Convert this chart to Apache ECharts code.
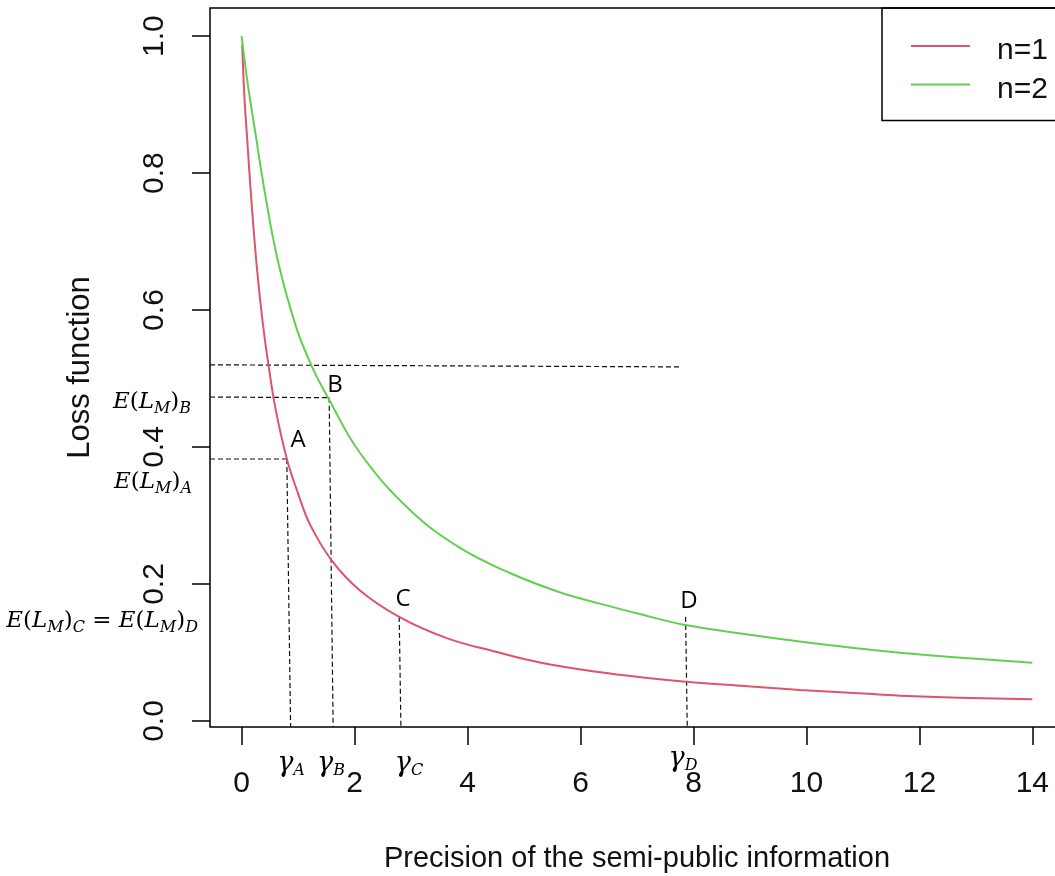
<!DOCTYPE html>
<html>
  <head>
    <meta charset="utf-8" />
    <script src="https://cdn.jsdelivr.net/npm/echarts@6/dist/echarts.min.js"></script>
    <style>body{margin:0;background:#fff;}</style>
  </head>
  <body>
    <div id="main" style="width: 1055px;height:876px;"></div>
    <script type="text/javascript">
      var myChart = echarts.init(document.getElementById('main'));

      // tick labels
      var xTicks = [0, 2, 4, 6, 8, 10, 12, 14];
      var yTicks = [0, 0.2, 0.4, 0.6, 0.8, 1.0];

      // n=1 curve
      var nOneX = [0.01, 0.05, 0.09, 0.17, 0.27, 0.37, 0.47, 0.6, 0.8, 1.0, 1.21, 1.59, 2.09, 2.79, 3.63, 4.5, 5.3, 6.35, 7.1, 7.86, 8.9, 9.88, 11.0, 11.65, 12.7, 14];
      var nOneY = [0.987, 0.91, 0.86, 0.763, 0.662, 0.584, 0.523, 0.456, 0.383, 0.332, 0.287, 0.235, 0.191, 0.152, 0.121, 0.101, 0.085, 0.071, 0.0635, 0.0574, 0.051, 0.0453, 0.040, 0.037, 0.034, 0.0317];

      // n=2 curve
      var nTwoX = [0, 0.1, 0.235, 0.425, 0.65, 0.97, 1.27, 1.53, 2.09, 2.98, 3.86, 4.75, 5.63, 6.36, 7.1, 7.86, 8.9, 9.88, 10.8, 11.65, 12.8, 14];
      var nTwoY = [1.0, 0.935, 0.863, 0.765, 0.669, 0.574, 0.513, 0.472, 0.392, 0.308, 0.253, 0.216, 0.188, 0.171, 0.155, 0.140, 0.127, 0.116, 0.107, 0.0997, 0.092, 0.085];

      // dashed guide lines (start point, end point)
      var xMin = -0.56, xMax = 14.56, yMin = -0.0088, yMax = 1.041;
      var guides = [
        [[xMin, 0.520], [7.79, 0.517]],
        [[xMin, 0.473], [1.53, 0.472]],
        [[xMin, 0.3825], [0.80, 0.3825]],
        [[0.80, 0.3825], [0.867, yMin]],
        [[1.55, 0.472], [1.62, yMin]],
        [[2.79, 0.152], [2.82, yMin]],
        [[7.86, 0.152], [7.89, yMin]]
      ];

      function pairs(xs, ys) {
        return xs.map(function (x, i) { return [x, ys[i]]; });
      }

      var mathRich = {
        i: { fontFamily: 'DejaVu Serif', fontStyle: 'italic', fontSize: 23, lineHeight: 29, fill: '#000' },
        n: { fontFamily: 'DejaVu Serif', fontSize: 23, lineHeight: 29, fill: '#000' },
        g: { fontFamily: 'DejaVu Serif', fontStyle: 'italic', fontSize: 27, lineHeight: 30, fill: '#000' },
        s: { fontFamily: 'DejaVu Serif', fontStyle: 'italic', fontSize: 16, lineHeight: 16, verticalAlign: 'bottom', fill: '#000' }
      };

      function mathText(txt, x, y, align) {
        return {
          type: 'text', x: x, y: y, silent: true,
          style: { text: txt, rich: mathRich, align: align || 'center', verticalAlign: 'middle' }
        };
      }
      function letter(txt, x, y) {
        return {
          type: 'text', x: x, y: y, silent: true,
          style: { text: txt, fontFamily: 'Open Sans', fontSize: 24, fill: '#000', align: 'center', verticalAlign: 'middle' }
        };
      }

      var series = [
        {
          name: 'n=1', type: 'line', data: pairs(nOneX, nOneY), showSymbol: false, symbol: 'none',
          smooth: 0.4,
          lineStyle: { color: '#DF536B', width: 2 }, itemStyle: { color: '#DF536B' }, z: 3
        },
        {
          name: 'n=2', type: 'line', data: pairs(nTwoX, nTwoY), showSymbol: false, symbol: 'none',
          smooth: 0.4,
          lineStyle: { color: '#61D04F', width: 2 }, itemStyle: { color: '#61D04F' }, z: 3
        }
      ];
      guides.forEach(function (g) {
        series.push({
          type: 'line', data: g, symbol: 'none', silent: true, z: 2,
          lineStyle: { color: '#111', width: 1.2, type: [5, 3] }
        });
      });

      // legend line sits a little above the text centre
      var legendIcon = 'path://M0,0L59,0L59,2L0,2Z M0,12L0.01,12L0.01,12.01Z';

      option = {
        animation: false,
        backgroundColor: '#fff',
        grid: {
          left: 210, top: 8, width: 854, height: 719,
          show: true, borderColor: '#000', borderWidth: 1.5,
          containLabel: false, outerBoundsMode: 'none'
        },
        xAxis: {
          type: 'value', min: xMin, max: xMax,
          splitLine: { show: false },
          axisLine: { show: false, onZero: false },
          axisTick: { show: true, length: 18, customValues: xTicks, lineStyle: { color: '#000', width: 1.5 } },
          axisLabel: { customValues: xTicks, fontFamily: 'Liberation Sans', fontSize: 30, color: '#111', margin: 42 },
          name: 'Precision of the semi-public information',
          nameLocation: 'middle', nameGap: 117,
          nameTextStyle: { fontFamily: 'Liberation Sans', fontSize: 29, color: '#111' }
        },
        yAxis: {
          type: 'value', min: yMin, max: yMax,
          splitLine: { show: false },
          axisLine: { show: false, onZero: false },
          axisTick: { show: true, length: 18, customValues: yTicks, lineStyle: { color: '#000', width: 1.5 } },
          axisLabel: {
            customValues: yTicks, rotate: 90, fontFamily: 'Liberation Sans', fontSize: 30, color: '#111', margin: 40,
            formatter: function (v) { return v.toFixed(1); }
          },
          name: 'Loss function',
          nameLocation: 'middle', nameGap: 114,
          nameTextStyle: { fontFamily: 'Liberation Sans', fontSize: 31, color: '#111' }
        },
        legend: {
          data: [{ name: 'n=1', icon: legendIcon }, { name: 'n=2', icon: legendIcon }],
          orient: 'vertical', left: 882, top: 8,
          padding: [28, 90, 16, 29],
          itemWidth: 59, itemHeight: 12, itemGap: 8.6,
          borderColor: '#000', borderWidth: 1.5, borderRadius: 0,
          textStyle: { fontFamily: 'Liberation Sans', fontSize: 30, lineHeight: 30, color: '#111', padding: [0, 0, 0, 22] }
        },
        series: series,
        graphic: [
          letter('A', 298, 440),
          letter('B', 335, 385),
          letter('C', 403, 599),
          letter('D', 689, 601),
          mathText('{i|E}{n|(}{i|L}{s|M}{n|)}{s|B}', 152, 402),
          mathText('{i|E}{n|(}{i|L}{s|M}{n|)}{s|A}', 153, 482),
          mathText('{i|E}{n|(}{i|L}{s|M}{n|)}{s|C}{n| = }{i|E}{n|(}{i|L}{s|M}{n|)}{s|D}', 198, 621, 'right'),
          mathText('{g|γ}{s|A}', 291, 764),
          mathText('{g|γ}{s|B}', 331, 764),
          mathText('{g|γ}{s|C}', 409, 764),
          mathText('{g|γ}{s|D}', 683, 759)
        ]
      };

      myChart.setOption(option);
    </script>
  </body>
</html>
